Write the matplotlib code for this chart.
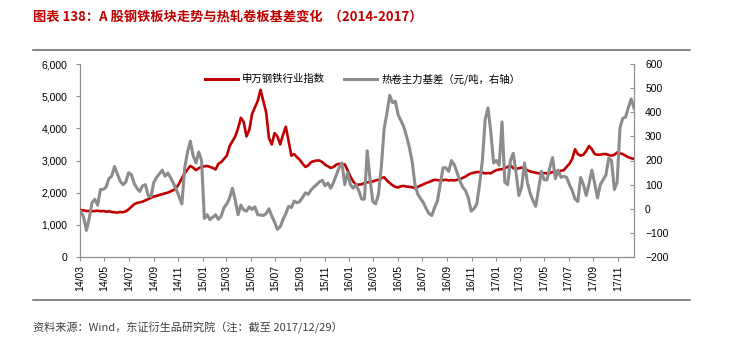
import numpy as np
import pandas as pd
import matplotlib
matplotlib.use("Agg")
import matplotlib.pyplot as plt
import matplotlib.dates as mdates
from matplotlib.ticker import FuncFormatter, MultipleLocator
from matplotlib.lines import Line2D

plt.rcParams['font.family'] = ['Noto Sans CJK SC', 'DejaVu Sans']

# ---------------- data (weekly samples) ----------------
dates = pd.date_range('2014-03-03', periods=198, freq='7D')

# 申万钢铁行业指数 (left axis)
steel_index = [
    1460, 1450, 1430, 1430, 1420, 1430, 1440, 1420, 1430, 1410,
    1420, 1400, 1390, 1380, 1400, 1390, 1420, 1480, 1560, 1640,
    1680, 1700, 1720, 1760, 1800, 1840, 1880, 1900, 1930, 1950,
    1980, 2000, 2040, 2080, 2150, 2280, 2450, 2600, 2720, 2830,
    2780, 2700, 2760, 2800, 2820, 2830, 2800, 2770, 2720, 2900,
    2950, 3050, 3150, 3450, 3600, 3750, 4000, 4330, 4200, 3750,
    3950, 4450, 4650, 4850, 5200, 4850, 4500, 3700, 3500, 3850,
    3750, 3500, 3800, 4050, 3600, 3150, 3200, 3100, 3020, 2900,
    2800, 2850, 2950, 2980, 3000, 3000, 2950, 2870, 2820, 2770,
    2800, 2870, 2900, 2880, 2880, 2700, 2500, 2350, 2250, 2250,
    2260, 2300, 2320, 2330, 2350, 2380, 2400, 2450, 2480, 2380,
    2300, 2230, 2180, 2160, 2200, 2210, 2190, 2180, 2170, 2140,
    2180, 2220, 2260, 2300, 2330, 2370, 2400, 2390, 2380, 2390,
    2400, 2380, 2390, 2380, 2400, 2420, 2460, 2500, 2560, 2600,
    2620, 2640, 2640, 2620, 2600, 2610, 2600, 2660, 2700, 2720,
    2730, 2760, 2800, 2850, 2760, 2740, 2760, 2780, 2740, 2700,
    2660, 2640, 2620, 2600, 2600, 2610, 2600, 2610, 2640, 2650,
    2660, 2680, 2700, 2800, 2900, 3050, 3350, 3200, 3150, 3180,
    3300, 3450, 3350, 3200, 3180, 3180, 3200, 3200, 3170, 3150,
    3180, 3250, 3220, 3200, 3150, 3100, 3070, 3050,
]

# 热卷主力基差 (right axis, 元/吨)
hrc_basis = [
    -10, -35, -90, -40, 25, 39, 15, 80, 80, 90,
    125, 135, 175, 145, 115, 100, 110, 149, 142, 105,
    85, 72, 95, 100, 55, 50, 110, 130, 145, 160,
    135, 148, 128, 105, 80, 50, 20, 170, 235, 280,
    220, 190, 235, 200, -40, -25, -45, -35, -25, -44,
    -30, 5, 20, 45, 85, 35, -25, 15, -5, -10,
    8, -3, 8, -25, -26, -28, -20, 0, -30, -55,
    -85, -75, -45, -20, 10, 5, 32, 25, 30, 48,
    66, 60, 78, 90, 100, 112, 118, 95, 107, 85,
    110, 140, 170, 190, 100, 150, 100, 85, 100, 75,
    40, 40, 240, 122, 30, 20, 60, 170, 330, 395,
    470, 440, 445, 390, 365, 340, 300, 255, 195, 100,
    60, 42, 25, 0, -20, -28, 5, 32, 100, 170,
    170, 155, 200, 182, 150, 115, 90, 75, 45, -10,
    0, 20, 100, 200, 370, 418, 320, 190, 200, 180,
    360, 110, 100, 200, 230, 150, 55, 90, 190, 110,
    65, 35, 10, 80, 155, 120, 120, 170, 212, 125,
    160, 130, 135, 130, 100, 75, 40, 30, 130, 100,
    55, 105, 160, 105, 45, 100, 120, 140, 210, 200,
    80, 110, 335, 375, 380, 420, 455, 418,
]

tick_dates = pd.date_range('2014-03-01', '2017-11-01', freq='2MS')

title = '图表 138：A 股钢铁板块走势与热轧卷板基差变化  （2014-2017）'
source = '资料来源：Wind，东证衍生品研究院（注：截至 2017/12/29）'
label_index = '申万钢铁行业指数'
label_basis = '热卷主力基差（元/吨，右轴）'

red = '#C00000'
grey = '#8C8C8C'
axis_grey = '#909090'

# ---------------- plot ----------------
fig = plt.figure(figsize=(7.33, 3.61), dpi=100)
ax = fig.add_axes([80 / 733, 1 - 257 / 361, 554 / 733, 193 / 361])
ax2 = ax.twinx()

ax.plot(dates, steel_index, color=red, lw=1.9, zorder=3)
ax2.plot(dates, hrc_basis, color=grey, lw=2.2)

ax.set_ylim(0, 6000)
ax2.set_ylim(-200, 600)
ax.yaxis.set_major_locator(MultipleLocator(1000))
ax2.yaxis.set_major_locator(MultipleLocator(100))
ax.yaxis.set_major_formatter(FuncFormatter(lambda v, p: f'{v:,.0f}'))
ax.set_xlim(pd.Timestamp('2014-03-01'), dates[-1])
ax.set_xticks(tick_dates)
ax.xaxis.set_major_formatter(mdates.DateFormatter('%y/%m'))

for a in (ax, ax2):
    for s in a.spines.values():
        s.set_color(axis_grey)
        s.set_linewidth(0.9)
    a.spines['top'].set_visible(False)
ax.spines['right'].set_visible(False)
ax2.spines['left'].set_visible(False)
ax2.spines['bottom'].set_visible(False)

ax.tick_params(axis='y', labelsize=7.5, length=3, color=axis_grey, pad=6)
ax.tick_params(axis='x', labelsize=7.5, length=3, color=axis_grey, labelrotation=90, pad=3)
ax2.tick_params(axis='y', labelsize=7.5, length=3, direction='in', color=axis_grey, pad=8)
for lab in ax.get_yticklabels() + ax2.get_yticklabels() + ax.get_xticklabels():
    lab.set_family(['Liberation Sans', 'DejaVu Sans'])

handles = [Line2D([], [], color=red, lw=2.2), Line2D([], [], color=grey, lw=2.2)]
ax.legend(handles, [label_index, label_basis], loc='upper center', ncol=2,
          frameon=False, fontsize=7.5, handlelength=3.2, columnspacing=1.8,
          handletextpad=0.4, bbox_to_anchor=(0.51, 1.0))

fig.text(33 / 733, 1 - 18 / 361, title, color=red, fontsize=9.5,
         fontweight='bold', va='center', ha='left')
fig.text(33 / 733, 1 - 328 / 361, source, color='#404040', fontsize=8,
         va='center', ha='left')
fig.add_artist(Line2D([33 / 733, 690 / 733], [1 - 50 / 361] * 2, color='#707070', lw=1.2))
fig.add_artist(Line2D([33 / 733, 690 / 733], [1 - 300 / 361] * 2, color='#707070', lw=1.2))

fig.savefig('out.png', dpi=100)
